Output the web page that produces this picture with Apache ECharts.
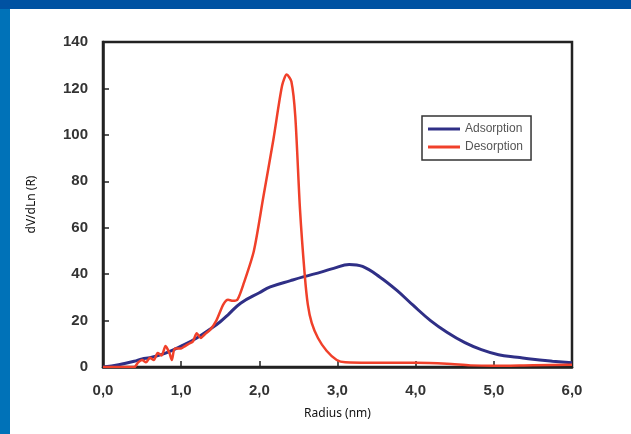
<!DOCTYPE html>
<html>
<head>
<meta charset="utf-8">
<script src="https://cdn.jsdelivr.net/npm/echarts@6/dist/echarts.min.js"></script>
<style>
  html, body { margin: 0; padding: 0; background: #fff; }
  #chart { width: 631px; height: 434px; }
</style>
</head>
<body>
<div id="chart"></div>
<script>
var adsX = [0, 0.2, 0.4, 0.5, 0.6, 0.8, 1.0, 1.2, 1.4, 1.5, 1.6, 1.76, 2.0, 2.14, 2.4, 2.56, 2.8, 2.95, 3.15, 3.32, 3.54, 3.76, 3.97, 4.19, 4.4, 4.63, 4.84, 5.06, 5.3, 5.5, 5.75, 6.0];
var adsY = [0, 1, 2.5, 3.5, 4, 6, 9, 12.5, 17, 19.5, 22.5, 27.5, 32, 34.5, 37.2, 38.8, 41, 42.5, 44.2, 43.3, 38.8, 33, 26.5, 20, 15, 10.5, 7.5, 5.3, 4.2, 3.3, 2.5, 1.8];

var desX = [0, 0.4, 0.45, 0.5, 0.55, 0.6, 0.65, 0.7, 0.75, 0.8, 0.85, 0.88, 0.92, 1.0, 1.05, 1.1, 1.15, 1.2, 1.25, 1.3, 1.37, 1.45, 1.54, 1.6, 1.66, 1.72, 1.8, 1.93, 2.05, 2.18, 2.29, 2.35, 2.41, 2.46, 2.52, 2.58, 2.62, 2.67, 2.75, 2.86, 2.99, 3.1, 3.5, 4.0, 4.4, 4.7, 5.0, 5.5, 6.0];
var desY = [0, 0, 2, 3, 2, 4, 3, 6, 5, 9, 6, 3, 8, 8, 9, 10, 11, 14.5, 12.5, 14, 16, 20, 27, 29, 28.5, 29, 36, 50, 73, 98, 121, 126, 123, 108, 68, 40, 27, 19, 12.5, 7, 3, 2, 1.8, 1.8, 1.4, 0.7, 0.5, 0.8, 1];

var xTicks = ['0,0', '1,0', '2,0', '3,0', '4,0', '5,0', '6,0'];
var yTicks = ['0', '20', '40', '60', '80', '100', '120', '140'];

function pairs(xs, ys) {
  var out = [];
  for (var i = 0; i < xs.length; i++) out.push([xs[i], ys[i]]);
  return out;
}

var dom = document.getElementById('chart');
var myChart = echarts.init(dom, null, { renderer: 'canvas' });

var option = {
  backgroundColor: '#fff',
  animation: false,
  graphic: [
    { type: 'rect', shape: { x: 0, y: 0, width: 10, height: 434 }, style: { fill: '#0072b8' } },
    { type: 'rect', shape: { x: 0, y: 0, width: 631, height: 9 }, style: { fill: '#0052a2' } }
  ],
  grid: {
    left: 103, right: 59, top: 42, bottom: 67,
    show: true, borderColor: '#222', borderWidth: 2.5
  },
  legend: {
    orient: 'vertical',
    left: 422, top: 116,
    padding: [7, 8, 7, 6],
    itemGap: 6,
    itemWidth: 32, itemHeight: 3,
    icon: 'rect',
    borderColor: '#333', borderWidth: 1.5,
    textStyle: { fontFamily: 'Liberation Sans Narrow, Liberation Sans', fontSize: 12, color: '#555' },
    data: ['Adsorption', 'Desorption']
  },
  xAxis: {
    type: 'value',
    min: 0, max: 6, interval: 1,
    name: 'Radius (nm)',
    nameLocation: 'middle',
    nameGap: 41,
    nameTextStyle: { fontFamily: 'Noto Sans', fontSize: 12, color: '#111' },
    axisLine: { show: true, lineStyle: { color: '#222', width: 2.5 } },
    axisTick: { show: true, inside: true, length: 6, lineStyle: { color: '#222', width: 1.5 } },
    splitLine: { show: false },
    axisLabel: {
      margin: 16,
      fontFamily: 'Liberation Sans', fontWeight: 'bold', fontSize: 15, color: '#333',
      formatter: function (v) { return xTicks[Math.round(v)]; }
    }
  },
  yAxis: {
    type: 'value',
    min: 0, max: 140, interval: 20,
    name: 'dV/dLn (R)',
    nameLocation: 'middle',
    nameGap: 65,
    nameTextStyle: { fontFamily: 'Noto Sans', fontSize: 12, color: '#111' },
    axisLine: { show: true, lineStyle: { color: '#222', width: 2.5 } },
    axisTick: { show: true, inside: true, length: 6, lineStyle: { color: '#222', width: 1.5 } },
    splitLine: { show: false },
    axisLabel: {
      margin: 15,
      fontFamily: 'Liberation Sans', fontWeight: 'bold', fontSize: 15, color: '#333',
      formatter: function (v) { return yTicks[Math.round(v / 20)]; }
    }
  },
  series: [
    {
      name: 'Adsorption',
      type: 'line',
      data: pairs(adsX, adsY),
      smooth: 0.4,
      showSymbol: false,
      color: '#2f2f86',
      lineStyle: { width: 3 }
    },
    {
      name: 'Desorption',
      type: 'line',
      data: pairs(desX, desY),
      smooth: 0.25,
      showSymbol: false,
      color: '#f0402a',
      lineStyle: { width: 2.5 }
    }
  ]
};

myChart.setOption(option);
window.addEventListener('resize', myChart.resize);
</script>
</body>
</html>
